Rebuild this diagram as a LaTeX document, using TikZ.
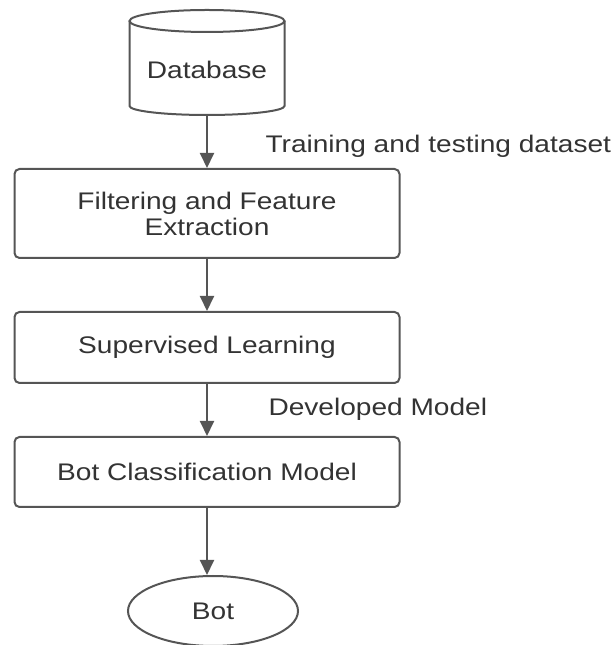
\documentclass[tikz,border=0pt]{standalone}
\usepackage{fontspec}
\setmainfont{Liberation Sans}[FakeStretch=1.17]
\usetikzlibrary{arrows.meta,shapes.geometric}
\definecolor{edge}{RGB}{85,85,85}
\definecolor{ink}{RGB}{51,51,51}
\begin{document}
\begin{tikzpicture}[x=1pt,y=1pt,
  every node/.style={font=\fontsize{24}{26}\selectfont, text=ink},
  process/.style={draw=edge, line width=2pt, rounded corners=5pt,
    minimum width=385pt, align=center, inner sep=0pt},
  flow/.style={draw=edge, line width=2pt, -{Triangle[length=15pt,width=14pt]}},
  tag/.style={anchor=base west},
]
\useasboundingbox (0,0) rectangle (615,645);

% database cylinder
\draw[edge, line width=2pt] (129.5,624) -- (129.5,539)
  arc[start angle=180, end angle=360, x radius=77.5, y radius=9] -- (284.5,624);
\draw[edge, line width=2pt] (207,624) ellipse [x radius=77.5, y radius=11];
\node (db) at (207,575) {Database};
\coordinate (dbb) at (207,530);

% processing steps
\node[process, minimum height=89pt] (ffe) at (207,431.5) {Filtering and Feature\\Extraction};
\node[process, minimum height=71pt] (sl) at (207,297.5) {Supervised Learning};
\node[process, minimum height=70pt] (bcm) at (207,173) {Bot Classification Model};
\node[draw=edge, line width=2pt, ellipse, minimum width=170pt, minimum height=70pt,
  inner sep=0pt] (bot) at (213,34) {Bot};

% connectors
\draw[flow] (dbb) -- (ffe.north);
\draw[flow] (ffe) -- (sl);
\draw[flow] (sl) -- (bcm);
\draw[flow] (bcm.south) -- (bcm.south |- bot.north);

% connector labels
\node[tag] (lt) at (262,492) {Training and testing dataset};
\node[tag] (ld) at (265,229) {Developed Model};
\end{tikzpicture}
\end{document}
